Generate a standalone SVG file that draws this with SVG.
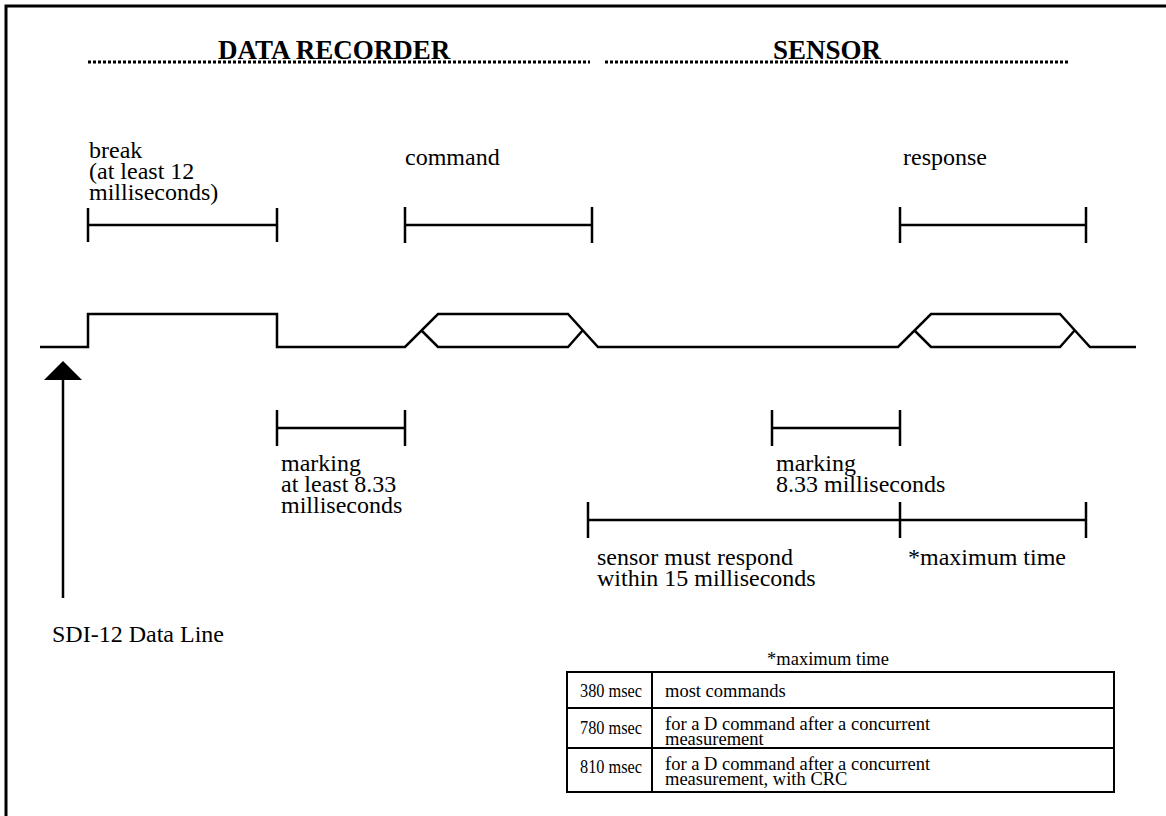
<svg xmlns="http://www.w3.org/2000/svg" width="1166" height="816" viewBox="0 0 1166 816">
<style>
.t{font-family:"Liberation Serif","Times New Roman",serif;font-size:24px;fill:#000}
.h{font-family:"Liberation Serif","Times New Roman",serif;font-size:27px;font-weight:bold;fill:#000}
.s{font-family:"Liberation Serif","Times New Roman",serif;font-size:18.5px;fill:#000}
.ln{fill:none;stroke:#000;stroke-width:2.5}
.dot{fill:none;stroke:#000;stroke-width:3;stroke-dasharray:3 2}
</style>
<rect width="1166" height="816" fill="#fff"/>
<path d="M6,816 V6 H1166" fill="none" stroke="#000" stroke-width="3"/>
<g id="header">
<line class="dot" x1="88" y1="62" x2="590" y2="62"/>
<line class="dot" x1="605" y1="62" x2="1068" y2="62"/>
<text class="h" x="218" y="59">DATA RECORDER</text>
<text class="h" x="773" y="59">SENSOR</text>
</g>
<g id="connectors">
<path class="ln" d="M40,347 H88 V314 H277 V347 H405 L438,314 H568 L598,347 H898 L931,314 H1060 L1090,347 H1136"/>
<path class="ln" d="M421,330 L438,347 H568 L583,330"/>
<path class="ln" d="M914,330 L931,347 H1060 L1075,330"/>
<line class="ln" x1="63" y1="375" x2="63" y2="598"/>
<polygon points="63,361 44,380 82,380" fill="#000"/>
</g>
<g id="break">
<path class="ln" d="M88,208 V242 M88,225 H277 M277,208 V242"/>
<text class="t" x="89" y="158">break</text>
<text class="t" x="89" y="179">(at least 12</text>
<text class="t" x="89" y="200">milliseconds)</text>
</g>
<g id="command">
<path class="ln" d="M405,207 V243 M405,225 H592 M592,207 V243"/>
<text class="t" x="405" y="165">command</text>
</g>
<g id="response">
<path class="ln" d="M900,207 V243 M900,225 H1086 M1086,207 V243"/>
<text class="t" x="903" y="165">response</text>
</g>
<g id="marking1">
<path class="ln" d="M277,410 V446 M277,428 H405 M405,410 V446"/>
<text class="t" x="281" y="471">marking</text>
<text class="t" x="281" y="492">at least 8.33</text>
<text class="t" x="281" y="513">milliseconds</text>
</g>
<g id="marking2">
<path class="ln" d="M772,410 V446 M772,428 H900 M900,410 V446"/>
<text class="t" x="776" y="471">marking</text>
<text class="t" x="776" y="492">8.33 milliseconds</text>
</g>
<g id="respond">
<path class="ln" d="M588,502 V538 M588,520 H1086 M900,502 V538 M1086,502 V538"/>
<text class="t" x="597" y="565">sensor must respond</text>
<text class="t" x="597" y="586">within 15 milliseconds</text>
<text class="t" x="908" y="565" font-size="25">*maximum time</text>
</g>
<g id="sdi">
<text class="t" x="52" y="642" font-size="26">SDI-12 Data Line</text>
</g>
<g id="table">
<text class="s" x="828" y="665" text-anchor="middle">*maximum time</text>
<rect x="567" y="672" width="547" height="120" fill="none" stroke="#000" stroke-width="2"/>
<path d="M652,672 V793 M567,708 H1114 M567,748 H1114" fill="none" stroke="#000" stroke-width="2"/>
<text class="s" x="580" y="697" textLength="62" lengthAdjust="spacingAndGlyphs">380 msec</text>
<text class="s" x="665" y="697">most commands</text>
<text class="s" x="580" y="734" textLength="62" lengthAdjust="spacingAndGlyphs">780 msec</text>
<text class="s" x="665" y="730">for a D command after a concurrent</text>
<text class="s" x="665" y="745">measurement</text>
<text class="s" x="580" y="773" textLength="62" lengthAdjust="spacingAndGlyphs">810 msec</text>
<text class="s" x="665" y="770">for a D command after a concurrent</text>
<text class="s" x="665" y="785">measurement, with CRC</text>
</g>
</svg>
